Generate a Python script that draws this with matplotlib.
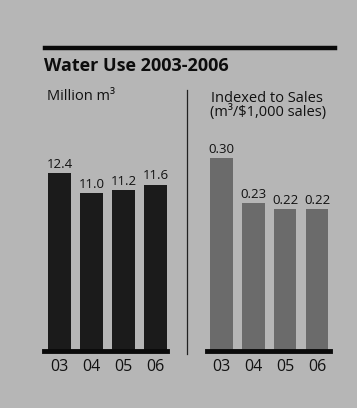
import matplotlib
matplotlib.use("Agg")
import matplotlib.pyplot as plt

years = ["03", "04", "05", "06"]
water_use = [12.4, 11.0, 11.2, 11.6]
water_labels = ["12.4", "11.0", "11.2", "11.6"]
indexed = [0.30, 0.23, 0.22, 0.22]
indexed_labels = ["0.30", "0.23", "0.22", "0.22"]

W, H = 357, 408
BG = "#b6b6b6"
FONT = ["Open Sans", "DejaVu Sans"]
plt.rcParams['font.family'] = FONT

fig = plt.figure(figsize=(W / 100, H / 100), dpi=100, facecolor=BG)


def fx(px):
    return px / W


def fy(py):
    return 1 - py / H


def make_ax(x0, x1, y_top, y_base):
    ax = fig.add_axes([fx(x0), fy(y_base), fx(x1) - fx(x0), fy(y_top) - fy(y_base)])
    ax.set_facecolor("none")
    for s in ["top", "left", "right"]:
        ax.spines[s].set_visible(False)
    ax.spines["bottom"].set_linewidth(3.5)
    ax.spines["bottom"].set_color("#0a0a0a")
    ax.set_yticks([])
    ax.tick_params(axis="x", length=0, pad=6, labelsize=11.5, colors="#111111")
    return ax


# left chart
ax1 = make_ax(44, 167, 150, 351)
x = list(range(len(years)))
b1 = ax1.bar(x, water_use, width=0.7, color="#1b1b1b")
ax1.set_xlim(-0.48, 3.36)
ax1.set_ylim(0, 201 / 14.35)
ax1.set_xticks(x, years)
ax1.bar_label(b1, labels=water_labels, padding=1.5, fontsize=9.5, color="#111111")

# right chart
ax2 = make_ax(207, 330, 150, 351)
b2 = ax2.bar(x, indexed, width=0.7, color="#6b6b6b")
ax2.set_xlim(-0.45, 3.4)
ax2.set_ylim(0, 201 / 644)
ax2.set_xticks(x, years)
ax2.bar_label(b2, labels=indexed_labels, padding=1.5, fontsize=9.5, color="#111111")

# top rule
fig.add_artist(plt.Line2D([fx(45), fx(335)], [fy(48), fy(48)], color="#0a0a0a", lw=3.2))
# divider
fig.add_artist(plt.Line2D([fx(187), fx(187)], [fy(90), fy(354)], color="#222222", lw=0.9))

fig.text(fx(44), fy(66), "Water Use 2003-2006", fontsize=13, fontweight="bold",
         color="#0d0d0d", va="center", ha="left")
fig.text(fx(47), fy(96), "Million m³", fontsize=10.5, color="#111111", va="center", ha="left")
fig.text(fx(211), fy(98), "Indexed to Sales", fontsize=10.5, color="#111111", va="center", ha="left")
fig.text(fx(210), fy(112), "(m³/$1,000 sales)", fontsize=10.5, color="#111111", va="center", ha="left")

fig.savefig("out.png", dpi=100, facecolor=BG)
